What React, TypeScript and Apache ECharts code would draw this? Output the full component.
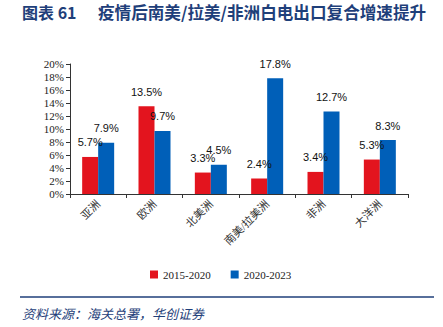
import React, { useEffect, useRef } from "react";
import * as echarts from "echarts";

const categories = ["亚洲", "欧洲", "北美洲", "南美/拉美洲", "非洲", "大洋洲"];
const series2015 = [5.7, 13.5, 3.3, 2.4, 3.4, 5.3];
const series2020 = [7.9, 9.7, 4.5, 17.8, 12.7, 8.3];
const seriesNames = ["2015-2020", "2020-2023"];
const titleLabel = "图表 61";
const titleText = "疫情后南美/拉美/非洲白电出口复合增速提升";
const sourceText = "资料来源：海关总署，华创证券";

export default function App() {
  const ref = useRef<HTMLDivElement>(null);
  useEffect(() => {
    if (!ref.current) return;
    const chart = echarts.init(ref.current, undefined, { renderer: "svg" });
    const labelStyle = {
      show: true,
      position: "top" as const,
      distance: 9,
      fontFamily: "Liberation Sans, Arial, sans-serif",
      fontSize: 11,
      color: "#111",
      formatter: (p: any) => p.value.toFixed(1) + "%",
    };
    chart.setOption({
      animation: false,
      backgroundColor: "#ffffff",
      graphic: [
        {
          type: "text",
          left: 22,
          top: 4,
          style: {
            text: titleLabel,
            fontFamily: "Noto Sans CJK SC, sans-serif",
            fontWeight: "bold",
            fontSize: 16,
            fill: "#1f3f7a",
          },
        },
        {
          type: "text",
          left: 98,
          top: 4,
          style: {
            text: titleText,
            fontFamily: "Noto Sans CJK SC, sans-serif",
            fontWeight: "bold",
            fontSize: 16.6,
            fill: "#1f3f7a",
          },
        },
        {
          type: "line",
          shape: { x1: 20, y1: 297, x2: 434, y2: 297 },
          style: { stroke: "#1f3f7a", lineWidth: 1.5 },
        },
        {
          type: "text",
          left: 22,
          top: 307,
          style: {
            text: sourceText,
            fontFamily: "Noto Sans CJK SC, sans-serif",
            fontStyle: "italic",
            fontSize: 13,
            fill: "#1f3f7a",
          },
        },
      ],
      legend: {
        data: seriesNames,
        left: 145,
        top: 264,
        icon: "rect",
        itemWidth: 8,
        itemHeight: 8,
        itemGap: 20,
        textStyle: {
          fontFamily: "Liberation Serif, Times New Roman, serif",
          fontSize: 11,
          color: "#222",
        },
      },
      grid: { left: 70, right: 35, top: 64, bottom: 133 },
      xAxis: {
        type: "category",
        data: categories,
        axisLine: { lineStyle: { color: "#333", width: 1 } },
        axisTick: { show: true, length: 4, lineStyle: { color: "#333" } },
        axisLabel: {
          rotate: 45,
          fontFamily: "Liberation Serif, Noto Sans CJK SC, serif",
          fontSize: 11,
          color: "#333",
          margin: 8,
        },
      },
      yAxis: {
        type: "value",
        min: 0,
        max: 20,
        interval: 2,
        splitLine: { show: false },
        axisLine: { show: true, lineStyle: { color: "#333", width: 1 } },
        axisTick: { show: true, length: 4, lineStyle: { color: "#333" } },
        axisLabel: {
          formatter: "{value}%",
          fontFamily: "Liberation Serif, Times New Roman, serif",
          fontSize: 11,
          color: "#222",
          margin: 6,
        },
      },
      series: [
        {
          name: seriesNames[0],
          type: "bar",
          data: series2015,
          barWidth: 16,
          barGap: "0%",
          itemStyle: { color: "#e3141e" },
          label: labelStyle,
        },
        {
          name: seriesNames[1],
          type: "bar",
          data: series2020,
          barWidth: 16,
          barGap: "0%",
          itemStyle: { color: "#005fb8" },
          label: labelStyle,
        },
      ],
    });
    return () => chart.dispose();
  }, []);
  return <div ref={ref} style={{ width: 443, height: 327, position: "absolute", left: 0, top: 0 }} />;
}
